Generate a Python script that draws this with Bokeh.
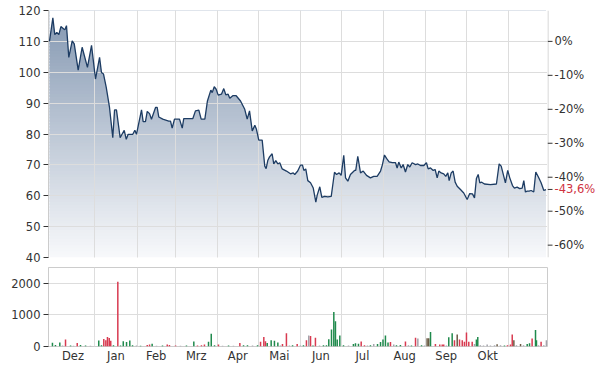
import numpy as np
from bokeh.plotting import figure
from bokeh.models import Range1d, FixedTicker
from bokeh.core.properties import value
from bokeh.layouts import column, row
from bokeh.embed import file_html
from bokeh.resources import INLINE

# ---------------- data (x = days relative to 1 January) ----------------
price_days = [-33.3, -30.8, -29.4, -27.9, -26.4, -24.9, -22.8, -22.0, -20.8, -19.1,
              -16.6, -15.1, -12.2, -9.3, -5.4, -2.4, 0.5, 3.5, 4.9, 6.4,
              8.4, 10.8, 13.2, 14.5, 15.9, 18.6, 21.6, 23.1, 24.5, 27.9,
              29.4, 30.6, 34.3, 35.5, 37.2, 38.5, 40.2, 41.6, 44.6, 45.8,
              47.0, 49.9, 54.3, 55.6, 56.8, 58.5, 62.2, 64.2, 65.3, 72.0,
              73.9, 76.4, 78.1, 80.8, 82.7, 85.2, 86.2, 87.7, 89.1, 90.6,
              93.0, 94.7, 96.2, 97.9, 99.1, 101.3, 103.8, 107.0, 110.1, 111.9,
              113.6, 115.6, 117.5, 118.7, 120.4, 122.9, 124.8, 125.8, 127.0, 128.3,
              130.2, 131.4, 132.9, 134.4, 135.8, 137.6, 140.7, 143.7, 145.7, 146.8,
              149.0, 151.0, 152.5, 153.5, 154.9, 156.4, 158.4, 160.4, 162.3, 163.3,
              165.2, 166.7, 168.7, 171.1, 173.6, 176.0, 177.5, 179.4, 180.9, 182.8,
              184.1, 185.8, 187.7, 190.7, 191.6, 193.1, 195.1, 197.1, 199.5, 202.4,
              204.8, 207.3, 209.8, 211.2, 212.7, 214.2, 216.1, 218.4, 220.8, 222.0,
              223.2, 225.0, 226.4, 228.1, 229.8, 231.3, 233.0, 235.5, 237.2, 239.1,
              241.6, 243.5, 244.8, 246.5, 248.5, 249.9, 251.4, 252.6, 254.3, 256.2,
              257.7, 259.2, 260.2, 261.7, 263.1, 264.6, 266.1, 268.5, 270.9, 273.4,
              275.3, 277.3, 278.8, 280.2, 281.5, 282.7, 284.1, 286.1, 290.5, 294.9,
              296.9, 298.4, 300.3, 301.5, 303.2, 304.7, 306.7, 308.1, 310.1, 312.0,
              313.8, 315.0, 316.2, 317.5, 318.9, 320.4, 322.3, 323.8, 325.8, 327.7,
              329.7, 331.3]
prices = [110.0, 117.6, 112.2, 112.9, 112.2, 114.8, 114.0, 113.8, 115.1, 104.8,
          110.2, 109.2, 100.7, 108.1, 101.6, 108.7, 97.8, 104.8, 99.9, 99.4,
          95.1, 88.6, 78.8, 87.8, 87.8, 78.8, 81.2, 78.3, 79.9, 79.9,
          81.2, 79.9, 87.8, 84.0, 84.0, 87.3, 86.6, 84.8, 88.6, 88.6,
          85.5, 84.8, 84.2, 84.2, 81.9, 84.8, 84.8, 81.9, 85.0, 85.0,
          87.5, 87.7, 84.8, 84.8, 90.7, 94.2, 93.4, 95.3, 94.5, 92.6,
          92.9, 94.7, 92.7, 92.9, 91.6, 92.4, 92.4, 90.7, 88.0, 84.8,
          87.5, 81.0, 82.8, 81.5, 78.0, 78.0, 69.6, 68.8, 71.4, 72.6,
          73.6, 70.3, 71.4, 70.3, 70.7, 68.7, 68.0, 67.1, 67.4, 66.9,
          68.0, 69.9, 69.9, 68.2, 68.7, 64.9, 64.2, 62.5, 57.9, 60.2,
          62.9, 59.5, 59.8, 59.6, 59.8, 67.6, 66.9, 67.4, 66.6, 73.1,
          65.8, 64.7, 66.9, 68.2, 68.2, 72.8, 67.4, 68.0, 66.6, 65.8,
          66.3, 66.3, 68.0, 70.1, 73.2, 72.1, 71.0, 70.7, 70.7, 69.0,
          70.9, 69.0, 70.1, 67.7, 70.1, 69.3, 70.7, 70.1, 70.3, 69.8,
          69.8, 70.7, 68.7, 69.0, 68.2, 68.5, 65.8, 68.0, 67.4, 67.1,
          66.3, 67.4, 64.9, 67.4, 68.0, 64.4, 63.1, 62.0, 60.9, 58.8,
          60.7, 60.6, 59.3, 65.6, 66.9, 64.2, 64.4, 63.8, 63.6, 63.8,
          70.3, 69.6, 66.3, 64.2, 68.2, 65.8, 63.3, 62.5, 62.8, 62.3,
          62.5, 64.9, 61.2, 61.5, 61.5, 61.7, 61.2, 67.7, 66.0, 64.2,
          61.7, 62.0]

vol_days = [-31.1, -28.9, -25.7, -23.7, -21.5, -17.8, -15.6, -12.9, -10.5, -6.8,
            -3.2, 2.9, 4.9, 6.6, 8.1, 9.3, 10.6, 11.7, 13.7, 16.9,
            18.9, 20.9, 23.3, 25.7, 27.7, 30.6, 33.6, 38.5, 40.2, 42.1,
            45.3, 49.7, 53.2, 54.8, 59.3, 62.9, 67.3, 72.7, 75.4, 78.3,
            80.5, 83.5, 85.5, 87.9, 90.8, 93.8, 98.2, 101.8, 106.5, 109.2,
            112.1, 115.8, 119.5, 121.7, 124.1, 125.3, 126.6, 129.5, 131.9, 134.4,
            136.3, 137.8, 140.7, 142.9, 145.2, 148.6, 151.0, 153.2, 155.4, 157.1,
            158.4, 160.2, 162.0, 165.0, 167.9, 170.1, 171.8, 173.8, 175.5, 176.7,
            178.0, 179.9, 182.6, 186.3, 189.9, 191.4, 193.6, 195.6, 198.0, 200.2,
            202.4, 204.8, 207.6, 209.8, 211.6, 213.4, 215.3, 217.1, 219.5, 221.5,
            224.4, 228.1, 230.3, 232.5, 235.5, 237.2, 239.9, 242.1, 244.0, 245.2,
            246.5, 250.1, 253.3, 255.1, 256.2, 258.2, 259.9, 262.4, 264.1, 266.1,
            267.8, 269.8, 271.4, 272.9, 274.6, 277.1, 278.8, 280.2, 281.2, 283.1,
            285.4, 288.1, 290.5, 293.5, 295.4, 297.9, 300.8, 303.0, 305.2, 306.5,
            307.7, 309.6, 312.6, 314.8, 317.5, 319.2, 321.1, 323.6, 324.3, 325.8,
            327.7, 329.7, 331.6]
volumes = [115, 50, 130, 30, 220, 30, 20, 110, 50, 30,
           20, 190, 40, 240, 200, 300, 270, 180, 40, 2050,
           30, 170, 140, 190, 40, 30, 25, 50, 60, 90,
           20, 30, 60, 50, 30, 25, 30, 160, 30, 40,
           60, 150, 400, 40, 60, 25, 30, 20, 110, 40,
           40, 30, 40, 150, 300, 170, 110, 200, 180, 130,
           30, 80, 420, 30, 40, 80, 30, 40, 200, 350,
           330, 30, 280, 30, 40, 40, 230, 540, 1090, 800,
           220, 350, 40, 30, 80, 100, 90, 160, 40, 30,
           40, 80, 80, 140, 220, 350, 130, 140, 60, 40,
           50, 160, 40, 30, 280, 250, 40, 30, 260, 260,
           460, 80, 60, 60, 60, 30, 290, 420, 200, 380,
           220, 200, 150, 440, 150, 150, 80, 220, 300, 40,
           30, 60, 30, 40, 70, 40, 30, 40, 60, 380,
           200, 40, 80, 40, 80, 100, 250, 520, 200, 40,
           150, 40, 200]
vol_dir = ["g", "g", "g", "n", "r", "g", "n", "r", "g", "g",
           "n", "g", "g", "r", "r", "r", "r", "r", "g", "r",
           "g", "g", "g", "g", "g", "n", "g", "r", "r", "g",
           "n", "g", "r", "r", "r", "n", "g", "g", "r", "r",
           "r", "g", "g", "g", "r", "n", "g", "n", "r", "g",
           "g", "n", "g", "r", "r", "r", "g", "g", "g", "g",
           "n", "r", "r", "n", "g", "r", "n", "g", "r", "n",
           "r", "g", "r", "n", "g", "g", "g", "g", "g", "g",
           "g", "g", "g", "n", "g", "g", "g", "r", "r", "n",
           "g", "n", "g", "g", "g", "g", "g", "r", "n", "g",
           "g", "r", "n", "g", "r", "n", "g", "n", "b", "b",
           "g", "r", "r", "r", "r", "n", "g", "g", "r", "b",
           "r", "r", "r", "r", "r", "r", "n", "g", "g", "n",
           "n", "n", "n", "n", "b", "n", "g", "r", "r", "r",
           "b", "n", "b", "n", "g", "g", "r", "g", "g", "n",
           "r", "n", "n"]

month_starts = [0, 31, 59, 90, 120, 151, 181, 212, 243, 273, 304]
month_label_pos = [-16, 15.5, 45, 74.5, 105, 135.5, 166, 196.5, 227.5, 258, 288.5]
month_labels = ["Dez", "Jan", "Feb", "Mrz", "Apr", "Mai", "Jun", "Jul", "Aug", "Sep", "Okt"]
price_ticks = [40, 50, 60, 70, 80, 90, 100, 110, 120]
pct_ticks = [0, -10, -20, -30, -40, -50, -60]
vol_ticks = [0, 1000, 2000]

# ---------------- styling ----------------
FONT = "DejaVu Sans"
FS = "11.5px"
TXT = "#333333"
GRID = "#dddddd"
BORDER = "#cccccc"
LINE = "#1d3c63"
RED = "#d0323f"
vol_colors = {"g": "#1f8a4c", "r": "#d83a50", "n": "#a3a3ab", "b": "#6b5b45"}

W = 607
H1, H2 = 265, 104
ML, MR = 48, 60
MT1, MB1 = 10, 8
X0, X1 = -34.0, 332.4
Y0, Y1 = 40, 120
base = prices[0]
pct_last = round((prices[-1] / base - 1) * 100, 1)
pct_range = ((Y0 / base - 1) * 100, (Y1 / base - 1) * 100)

def style_axis(ax):
    ax.major_label_text_font = FONT
    ax.major_label_text_font_size = FS
    ax.major_label_text_color = TXT
    ax.major_tick_line_color = TXT
    ax.major_tick_in = 0
    ax.major_tick_out = 5
    ax.minor_tick_line_color = None
    ax.major_label_standoff = 3

# ---------------- price panel ----------------
p1 = figure(width=W - MR, height=H1, x_range=Range1d(X0, X1), y_range=Range1d(Y0, Y1),
            output_backend="svg", toolbar_location=None,
            min_border_left=ML, min_border_right=0, min_border_top=MT1, min_border_bottom=MB1)
p1.outline_line_color = None

# vertical gradient under the line: overlapping colour bands, then a white mask above the line
n_bands = 80
edges = np.linspace(Y0, Y1, n_bands + 1)
step = edges[1] - edges[0]
top_rgb = np.array([0x83, 0x97, 0xb1])
bot_rgb = np.array([0xf8, 0xf9, 0xfb])
band_colors = []
for i in range(n_bands):
    t = (edges[i] + edges[i + 1]) / 2
    f = (t - Y0) / (Y1 - Y0)
    c = bot_rgb + (top_rgb - bot_rgb) * f
    band_colors.append("#%02x%02x%02x" % tuple(int(round(v)) for v in c))
p1.quad(left=[price_days[0]] * n_bands, right=[price_days[-1]] * n_bands,
        bottom=edges[:-1], top=edges[1:] + step * 0.6, fill_color=band_colors, line_color=None)
p1.varea(x=price_days, y1=prices, y2=[Y1 + 5] * len(prices), fill_color="white")

p1.line(price_days, prices, line_color=LINE, line_width=1.3, level="overlay")

p1.xaxis.visible = False
p1.xgrid.ticker = FixedTicker(ticks=month_starts)
p1.xgrid.grid_line_color = GRID
p1.xgrid.level = "guide"
p1.ygrid.ticker = FixedTicker(ticks=price_ticks[:-1])
p1.ygrid.grid_line_color = GRID
p1.ygrid.level = "guide"

p1.yaxis.ticker = FixedTicker(ticks=price_ticks)
style_axis(p1.yaxis[0])
p1.yaxis.axis_line_color = BORDER

# ---------------- percent scale (right of the price panel) ----------------
pr = figure(width=MR, height=H1, x_range=Range1d(0, MR), y_range=Range1d(*pct_range),
            output_backend="svg", toolbar_location=None,
            x_axis_location=None, y_axis_location=None,
            min_border_left=0, min_border_right=0, min_border_top=MT1, min_border_bottom=MB1)
pr.outline_line_color = None
pr.xgrid.visible = False
pr.ygrid.visible = False
pr.segment(x0=[0.5], x1=[0.5], y0=[pct_range[0]], y1=[pct_range[1]], line_color=BORDER, line_width=1)
all_pct = pct_ticks + [pct_last]
pr.segment(x0=[0] * len(all_pct), x1=[5] * len(all_pct), y0=all_pct, y1=all_pct,
           line_color=TXT, line_width=1)
pr.text(x=[7] * len(pct_ticks), y=pct_ticks, text=[f"{t}%" for t in pct_ticks],
        text_font=value(FONT), text_font_size=FS, text_color=TXT,
        text_baseline="middle", text_align="left")
pr.text(x=[7], y=[pct_last], text=[f"{pct_last:.1f}".replace(".", ",") + "%"],
        text_font=value(FONT), text_font_size=FS, text_color=RED,
        text_baseline="middle", text_align="left")

# ---------------- volume panel ----------------
p2 = figure(width=W, height=H2, x_range=p1.x_range, y_range=Range1d(0, 2500),
            output_backend="svg", toolbar_location=None,
            min_border_left=ML, min_border_right=MR, min_border_top=2, min_border_bottom=23)
p2.outline_line_color = BORDER
p2.vbar(x=vol_days, top=volumes, width=1.1, bottom=0,
        fill_color=[vol_colors[d] for d in vol_dir], line_color=None)

p2.xgrid.ticker = FixedTicker(ticks=month_starts)
p2.xgrid.grid_line_color = GRID
p2.ygrid.grid_line_color = GRID
p2.yaxis.ticker = FixedTicker(ticks=vol_ticks)
style_axis(p2.yaxis[0])
p2.yaxis.axis_line_color = BORDER

p2.xaxis.ticker = FixedTicker(ticks=month_label_pos)
p2.xaxis.major_label_overrides = dict(zip(month_label_pos, month_labels))
style_axis(p2.xaxis[0])
p2.xaxis.major_tick_out = 0
p2.xaxis.major_label_standoff = 2
p2.xaxis.axis_line_color = None

layout = column(row(p1, pr), p2)
open("out.html", "w").write(file_html(layout, INLINE))
